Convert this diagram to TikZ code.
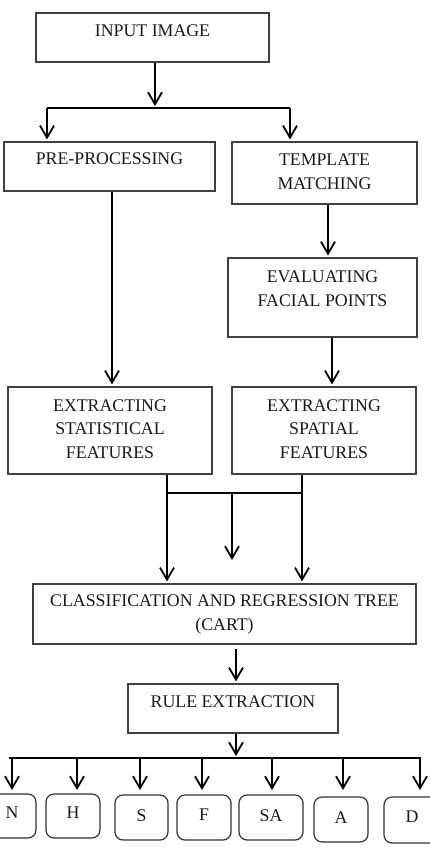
\documentclass[tikz,border=0pt]{standalone}
\usepackage{fontspec}
\setmainfont{Liberation Serif}
\usetikzlibrary{arrows.meta,fit}
\begin{document}
\begin{tikzpicture}[x=0.5pt,y=-0.5pt,
  box/.style={draw=black!75,line width=0.6pt,inner sep=0pt},
  tag/.style={draw=black!80,line width=0.6pt,rounded corners=4pt,inner sep=0pt},
  txt/.style={font=\fontsize{8.9}{11.8}\selectfont,align=center,inner sep=0pt,text=black!90},
  arr/.style={-{Straight Barb[length=6pt,width=7pt]},line width=0.9pt,shorten >=1pt},
  ln/.style={line width=0.9pt}]
  \useasboundingbox (0,0) rectangle (429,851);
  \node[box,fit={(36,13) (269,62)}] (input) {};
  \node[txt] (inputt) at (152.5,31) {INPUT IMAGE};
  \node[box,fit={(4,142) (215,191)}] (pre) {};
  \node[txt] (pret) at (109.5,159) {PRE-PROCESSING};
  \node[box,fit={(232,142) (417,204)}] (tmpl) {};
  \node[txt] (tmplt) at (324.5,171.5) {TEMPLATE\\MATCHING};
  \node[box,fit={(228,258) (417,337)}] (eval) {};
  \node[txt] (evalt) at (322.5,288.5) {EVALUATING\\FACIAL POINTS};
  \node[box,fit={(8,387) (212,474)}] (stat) {};
  \node[txt] (statt) at (110,429) {EXTRACTING\\STATISTICAL\\FEATURES};
  \node[box,fit={(232,387) (416,474)}] (spat) {};
  \node[txt] (spatt) at (324,429) {EXTRACTING\\SPATIAL\\FEATURES};
  \node[box,fit={(33,584) (416,644)}] (cart) {};
  \node[txt] (cartt) at (224.5,614.5) {CLASSIFICATION AND REGRESSION TREE\\(CART)};
  \node[box,fit={(128,684) (338,733)}] (rule) {};
  \node[txt] (rulet) at (233,702) {RULE EXTRACTION};
  % emotion classes
  \node[tag,fit={(-12,794) (36,838)}] (n) {};
  \node[txt] at (12,813) {N};
  \node[tag,fit={(46,794) (100,838)}] (h) {};
  \node[txt] at (73,813) {H};
  \node[tag,fit={(115,795) (168,840)}] (s) {};
  \node[txt] at (141.5,816) {S};
  \node[tag,fit={(177,795) (231,840)}] (f) {};
  \node[txt] at (204,815) {F};
  \node[tag,fit={(239,795) (303,840)}] (sa) {};
  \node[txt] at (271,816) {SA};
  \node[tag,fit={(314,797) (368,842)}] (a) {};
  \node[txt] at (341,818) {A};
  \node[tag,fit={(384,797) (440,843)}] (d) {};
  \node[txt] at (412,817) {D};
  \coordinate (fork1) at (155,108);
  \coordinate (join) at (232,493);
  \coordinate (fork2) at (236,758);
  \draw[arr] (input.south -| fork1) -- (fork1);
  \draw[ln] (47,108) -- (290,108);
  \draw[arr] (47,108) -- (47,108 |- pre.north);
  \draw[arr] (290,108) -- (290,108 |- tmpl.north);
  \draw[arr] (pre.south -| 112,0) -- (stat.north -| 112,0);
  \draw[arr] (tmpl.south -| 328,0) -- (eval.north -| 328,0);
  \draw[arr] (eval.south -| 332,0) -- (spat.north -| 332,0);
  \draw[arr] (stat.south -| 167,0) -- (cart.north -| 167,0);
  \draw[arr] (spat.south -| 302,0) -- (cart.north -| 302,0);
  \draw[ln] (167,493) -- (302,493);
  \draw[arr] (join) -- (232,562);
  \draw[arr] (cart.south -| fork2) ++(0,4) -- (rule.north -| fork2);
  \draw[arr] (rule.south -| fork2) -- (fork2);
  \draw[ln] (9,758) -- (421,758);
  \foreach \x/\b in {12/n,77/h,140/s,202/f,272/sa,343/a,420/d}
    \draw[arr] (\x,758) -- (\x,792);
\end{tikzpicture}
\end{document}
